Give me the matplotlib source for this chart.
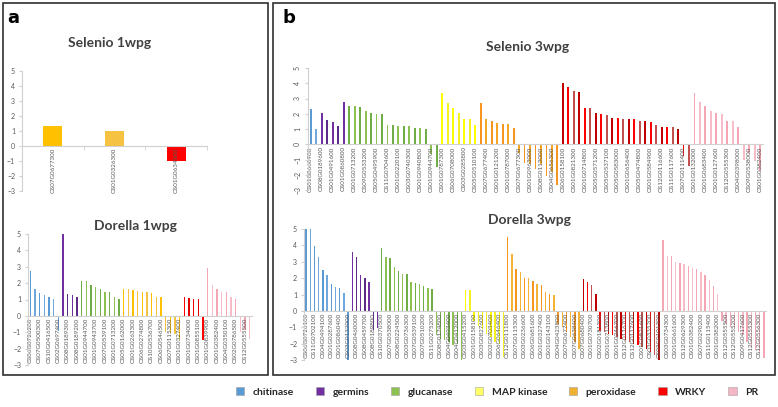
import matplotlib.pyplot as plt
from matplotlib.patches import Patch, Rectangle
import numpy as np

plt.rcParams['font.family'] = ['Lato', 'DejaVu Sans']

W, H = 778, 407

# ---- data (log2 fold change per gene, grouped by family) ----
sel1_vals = {
    'peroxidase': [1.35, 1.0],
    'WRKY': [-1.0],
}
sel1_labels = ['OS07G0677300', 'OS01G0326300', 'OS01G0634000']

dor1_vals = {
    'chitinase': [2.76, 1.64, 1.40, 1.26, 1.18, 1.06, -0.95],
    'germins': [5.0, 1.34, 1.26, 1.14],
    'glucanase': [2.11, 2.11, 1.87, 1.79, 1.62, 1.46, 1.46, 1.18, 1.02],
    'peroxidase': [1.62, 1.62, 1.56, 1.50, 1.44, 1.44, 1.38, 1.14, 1.14,
                   -0.96, -1.06, -1.10, -1.42],
    'WRKY': [1.16, 1.08, 1.04, 1.02, -1.50],
    'PR': [2.90, 1.89, 1.62, 1.46, 1.44, 1.14, 1.06, -1.00, -0.85, -1.42],
}
dor1_labels = ['OS06G0726200', 'OS07G0500300', 'OS10G0416500', 'OS02G0697400',
               'OS08G0189300', 'OS08G0189200', 'OS01G0944700', 'OS01G0943700',
               'OS07G0539100', 'OS01G0713200', 'OS05G0162000', 'OS01G0263300',
               'OS06G0274800', 'OS10G0536700', 'OS06G0546500', 'OS07G0115300',
               'OS01G0327400', 'OS01G0734000', 'OS01G0855100', 'OS01G0839900',
               'OS01G0382400', 'OS04G0350100', 'OS02G0786500', 'OS12G0555500']

sel3_vals = {
    'chitinase': [2.30, 1.03],
    'germins': [2.04, 1.58, 1.45, 1.20, 2.78],
    'glucanase': [2.50, 2.48, 2.41, 2.15, 2.06, 1.97, 1.97, 1.27, 1.25, 1.18,
                  1.18, 1.18, 1.07, 1.07, 1.00, -0.66, -1.47],
    'MAP kinase': [3.33, 2.72, 2.37, 2.04, 1.64, 1.64, 1.25],
    'peroxidase': [2.72, 1.64, 1.53, 1.40, 1.36, 1.32, 1.05,
                   -0.60, -1.20, -1.30, -1.60, -1.30, -2.10, -1.80, -2.70],
    'WRKY': [4.00, 3.73, 3.50, 3.40, 2.37, 2.37, 2.08, 1.97, 1.95, 1.75, 1.71,
             1.64, 1.64, 1.64, 1.53, 1.53, 1.47, 1.25, 1.16, 1.10, 1.10, 1.03,
             -0.77, -1.43],
    'PR': [3.35, 2.74, 2.52, 2.19, 2.04, 1.97, 1.53, 1.53, 1.14,
           -1.03, -0.60, -1.10, -1.75],
}
sel3_labels = ['OS01G0660900', 'OS08G0189600', 'OS01G0491600', 'OS01G0860800',
               'OS01G0713200', 'OS09G0533200', 'OS05G0495900', 'OS11G0704600',
               'OS01G0220100', 'OS03G0740300', 'OS01G0940800', 'OS01G0944700',
               'OS01G0787300', 'OS06G0708000', 'OS03G0285800', 'OS05G0510100',
               'OS07G0677400', 'OS01G0121200', 'OS01G0787000', 'OS07G0677300',
               'OS01G0963000', 'OS08G0113000', 'OS04G0656300', 'OS06G0158100',
               'OS01G0821300', 'OS01G0714800', 'OS05G0571200', 'OS05G0537100',
               'OS05G0583000', 'OS01G0656400', 'OS05G0474800', 'OS01G0584900',
               'OS12G0116600', 'OS11G0117600', 'OS07G0111400', 'OS01G0132000',
               'OS01G0683400', 'OS01G0127600', 'OS12G0555300', 'OS04G0398000',
               'OS09G0538000', 'OS01G0382400']

dor3_vals = {
    'chitinase': [5.0, 5.0, 3.94, 3.29, 2.47, 2.18, 1.65, 1.43, 1.39, 1.10, -3.0],
    'germins': [3.59, 3.30, 2.18, 2.00, 1.78, -1.16, -1.06],
    'glucanase': [3.84, 3.29, 3.20, 2.67, 2.41, 2.24, 2.24, 1.78, 1.69, 1.65,
                  1.53, 1.37, 1.31, -1.50, -1.70, -1.80, -1.90, -2.10, -2.00, -3.00],
    'MAP kinase': [1.30, 1.25, -0.60, -0.90, -1.10, -1.40, -1.60, -1.90, -2.00, -2.80],
    'peroxidase': [4.50, 3.50, 2.55, 2.35, 1.98, 1.98, 1.84, 1.63, 1.57, 1.18,
                   1.04, 1.00, -0.80, -1.00, -1.30, -1.60, -1.90, -2.30],
    'WRKY': [1.95, 1.75, 1.60, 1.05, -1.20, -1.30, -1.40, -1.50, -1.60, -1.70,
             -1.80, -1.90, -2.00, -2.10, -2.20, -2.30, -2.50, -2.70, -3.00],
    'PR': [4.30, 3.37, 3.37, 2.96, 2.92, 2.86, 2.76, 2.61, 2.57, 2.35, 2.18,
           1.90, 1.49, 1.02, -0.60, -0.80, -1.00, -1.10, -1.30, -1.50, -1.90,
           -2.20, -2.40, -2.60, -2.90],
}
dor3_labels = ['OS06G0726100', 'OS11G0702100', 'OS04G0494100', 'OS01G0287600',
               'OS01G0860400', 'OS03G0132000', 'OS08G0460000', 'OS08G0459700',
               'OS08G0189800', 'OS10G0370500', 'OS07G0538000', 'OS08G0224500',
               'OS03G0736300', 'OS07G0539100', 'OS07G0510200', 'OS11G0275200',
               'OS08G0174800', 'OS04G0493400', 'OS04G0412000', 'OS03G0415200',
               'OS01G0158100', 'OS03G0827600', 'OS02G0703400', 'OS06G0646400',
               'OS12G0111800', 'OS07G0115300', 'OS03G0236600', 'OS06G0681600',
               'OS01G0327400', 'OS01G0143100', 'OS04G0423800', 'OS07G0677400',
               'OS07G0638400', 'OS07G0680400', 'OS01G0730700', 'OS02G0181300',
               'OS01G0713800', 'OS01G0246700', 'OS12G0116700', 'OS12G0117600',
               'OS01G0821600', 'OS03G0335200', 'OS03G0101300', 'OS03G0734300',
               'OS01G0661600', 'OS12G0629300', 'OS01G0382400', 'OS07G0290200',
               'OS11G0115400', 'OS01G0382000', 'OS12G0555500', 'OS12G0555200',
               'OS09G0417600', 'OS12G0555300', 'OS12G0556300']

families = ['chitinase', 'germins', 'glucanase', 'MAP kinase', 'peroxidase', 'WRKY', 'PR']
legend_colors = ['#5B9BD5', '#7030A0', '#8CC152', '#FFFF66', '#F0B030', '#FF0000', '#F4B6C2']

shades = {
    'chitinase': ['#5B9BD5', '#6FA8DC'],
    'germins': ['#7030A0', '#5E2A8A'],
    'glucanase': ['#70AD47', '#8CC152'],
    'MAP kinase': ['#FFFF00', '#F5F020'],
    'peroxidase': ['#F7961E', '#F5A623'],
    'WRKY': ['#C00000', '#FF0000', '#C0504D'],
    'PR': ['#F4A6B4', '#F7BCC8'],
}
gold = {'peroxidase': ['#FFC000', '#F5C242'], 'WRKY': ['#FF0000', '#E00000']}


def px(x, y):
    return x / W, 1 - y / H


def draw(rect, vals, labels, width, step, rot_y=0, override=None, minor=False):
    l, t, r, b = rect
    ax = fig.add_axes([l / W, 1 - b / H, (r - l) / W, (b - t) / H])
    heights, cols = [], []
    for fam, v in vals.items():
        sh = (override or {}).get(fam, shades[fam])
        for i, y in enumerate(v):
            heights.append(y)
            cols.append(sh[i % len(sh)])
    x = np.arange(len(heights))
    ax.bar(x, heights, width=width, color=cols, linewidth=0)
    ax.set_xlim(-0.5, len(heights) - 0.5)
    ax.set_ylim(-3, 5)
    ax.set_yticks(range(-3, 6))
    ax.set_facecolor('none')
    for s in ['top', 'right']:
        ax.spines[s].set_visible(False)
    ax.spines['bottom'].set_position(('data', 0))
    ax.spines['bottom'].set_color('#D0D0D0')
    ax.spines['left'].set_color('#D0D0D0')
    ax.spines['bottom'].set_linewidth(0.8)
    ax.spines['left'].set_linewidth(0.8)
    ax.set_xticks(x[::step])
    ax.set_xticklabels(labels, rotation=90, fontsize=4.5, color='#595959')
    ax.tick_params(axis='x', length=0, pad=1.5)
    ax.tick_params(axis='y', labelsize=5, labelcolor='#595959', length=2,
                   color='#D0D0D0', pad=3)
    if rot_y:
        for tl in ax.get_yticklabels():
            tl.set_rotation(90)
            tl.set_va('center')
    if minor:
        ax.set_xticks(np.arange(len(heights) + 1) - 0.5, minor=True)
        ax.tick_params(axis='x', which='minor', length=3, color='#D0D0D0')
    return ax


fig = plt.figure(figsize=(W / 100, H / 100), dpi=100)

# panel frames
for x0, x1 in [(3, 268), (273, 775)]:
    fig.add_artist(Rectangle(px(x0, 375), (x1 - x0) / W, 372 / H,
                             transform=fig.transFigure, fill=False,
                             edgecolor='#303030', linewidth=1.2))

draw((22, 71, 207, 191), sel1_vals, sel1_labels, 0.31, 1, override=gold, minor=True)
draw((28, 234, 252, 365), dor1_vals, dor1_labels, 0.35, 2, override=gold)
draw((308, 68, 763, 190), sel3_vals, sel3_labels, 0.35, 2, rot_y=90)
draw((304, 229, 766, 360), dor3_vals, dor3_labels, 0.32, 2,
     override={'peroxidase': ['#F7961E', '#F5B335']})

title_kw = dict(fontsize=10, fontweight='bold', color='#404040', ha='center', va='center')
fig.text(*px(110, 43), 'Selenio 1wpg', **title_kw)
fig.text(*px(135, 226), 'Dorella 1wpg', **title_kw)
fig.text(*px(528, 47), 'Selenio 3wpg', **title_kw)
fig.text(*px(529, 220), 'Dorella 3wpg', **title_kw)

fig.text(*px(7, 18), 'a', fontsize=13, fontweight='bold', family='DejaVu Sans',
         ha='left', va='center')
fig.text(*px(283, 18), 'b', fontsize=13, fontweight='bold', family='DejaVu Sans',
         ha='left', va='center')

handles = [Patch(facecolor=c, edgecolor='#A0A0A0', linewidth=0.4) for c in legend_colors]
leg = fig.legend(handles, families, loc='center', bbox_to_anchor=(px(497, 392)),
                 ncol=7, frameon=False, handlelength=0.8, handleheight=0.8,
                 handletextpad=0.8, columnspacing=2.1,
                 prop={'size': 7.5, 'weight': 'bold'})
for t in leg.get_texts():
    t.set_color('#262626')

fig.savefig('out.png', dpi=100)
